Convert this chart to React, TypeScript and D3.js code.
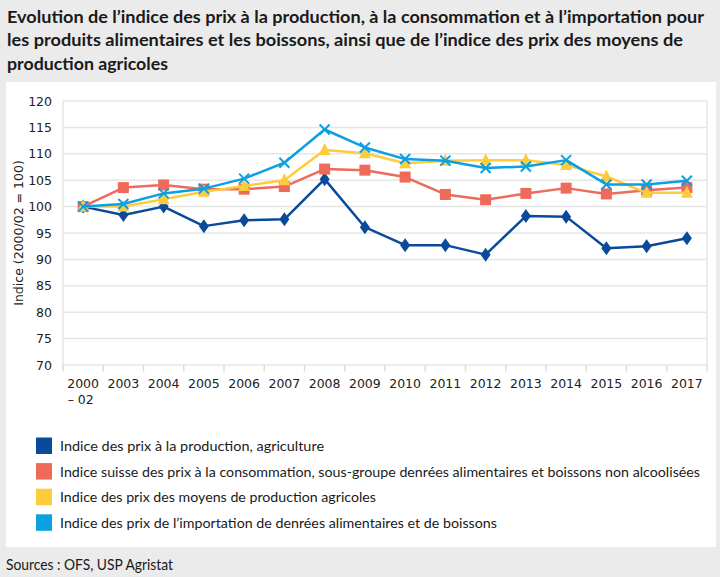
import React from "react";
import * as d3 from "d3";

const categories = ["2000", "2003", "2004", "2005", "2006", "2007", "2008", "2009", "2010", "2011", "2012", "2013", "2014", "2015", "2016", "2017"];
const firstCategorySuffix = "– 02";
const production = [100, 98.4, 100, 96.3, 97.4, 97.6, 105.2, 96.1, 92.7, 92.7, 90.9, 98.2, 98.1, 92.1, 92.5, 94.0];
const consommation = [100, 103.6, 104.1, 103.3, 103.3, 103.8, 107.1, 106.9, 105.6, 102.3, 101.3, 102.5, 103.5, 102.4, 103.1, 103.6];
const moyens = [100, 100.0, 101.4, 102.8, 103.9, 105.0, 110.7, 110.1, 108.2, 108.7, 108.8, 108.8, 107.9, 105.7, 102.6, 102.6];
const importation = [100, 100.5, 102.5, 103.4, 105.3, 108.3, 114.6, 111.2, 109.0, 108.7, 107.3, 107.6, 108.8, 104.2, 104.2, 104.9];
const yTicks = [70, 75, 80, 85, 90, 95, 100, 105, 110, 115, 120];
const seriesNames = [
  "Indice des prix à la production, agriculture",
  "Indice suisse des prix à la consommation, sous-groupe denrées alimentaires et boissons non alcoolisées",
  "Indice des prix des moyens de production agricoles",
  "Indice des prix de l’importation de denrées alimentaires et de boissons",
];
const legendWidths = [264, 640, 316, 437];
const titleLines = [
  "Evolution de l’indice des prix à la production, à la consommation et à l’importation pour",
  "les produits alimentaires et les boissons, ainsi que de l’indice des prix des moyens de",
  "production agricoles",
];
const titleWidths = [697, 676, 161];

const colors = ["#0a4a9b", "#ee6a5b", "#fdcc3d", "#0aa0e2"];
const seriesData = [production, consommation, moyens, importation];
const markers = ["diamond", "square", "triangle", "x"];

const textFont = "Lato, 'Open Sans', sans-serif";
const axisFont = "'DejaVu Sans', Verdana, sans-serif";

export default function App() {
  const W = 720, H = 577;
  const left = 63, right = 707, top = 101, bottom = 365;
  const x = d3.scaleBand().domain(categories).range([left, right]);
  const y = d3.scaleLinear().domain([70, 120]).range([bottom, top]);
  const cx = (c: string) => (x(c) as number) + x.bandwidth() / 2;
  const line = d3.line<number>().x((_, i) => cx(categories[i])).y((v) => y(v));

  const marker = (type: string, px: number, py: number, color: string, key: string) => {
    if (type === "diamond") {
      return <path key={key} d={`M${px},${py - 7}L${px + 5},${py}L${px},${py + 7}L${px - 5},${py}Z`} fill={color} />;
    }
    if (type === "square") {
      return <rect key={key} x={px - 5.5} y={py - 5.5} width={11} height={11} fill={color} />;
    }
    if (type === "triangle") {
      return <path key={key} d={`M${px},${py - 7}L${px + 6},${py + 5}L${px - 6},${py + 5}Z`} fill={color} />;
    }
    return (
      <path key={key} d={`M${px - 5},${py - 5}L${px + 5},${py + 5}M${px + 5},${py - 5}L${px - 5},${py + 5}`} stroke={color} strokeWidth={2} fill="none" />
    );
  };

  return (
    <svg width={W} height={H} style={{ display: "block", position: "absolute", left: 0, top: 0 }}>
      <rect x={0} y={0} width={W} height={H} fill="#ebebeb" />
      {titleLines.map((t, i) => (
        <text key={i} x={7} y={22.5 + i * 23.5} fontFamily={textFont} fontSize={17} fontWeight="bold" fill="#1a1a1a"
          textLength={titleWidths[i]} lengthAdjust="spacingAndGlyphs">
          {t}
        </text>
      ))}
      <rect x={6} y={82} width={710} height={465} fill="#ffffff" />
      {/* grid */}
      {yTicks.map((t) => (
        <line key={t} x1={left} x2={right} y1={y(t)} y2={y(t)} stroke="#e6e6e6" strokeWidth={1.5} />
      ))}
      <line x1={left} x2={left} y1={top} y2={bottom} stroke="#e6e6e6" strokeWidth={1.5} />
      <line x1={right} x2={right} y1={top} y2={bottom} stroke="#e6e6e6" strokeWidth={1.5} />
      {/* x ticks */}
      {categories.concat(["end"]).map((c, i) => {
        const xx = i < categories.length ? (x(c) as number) : right;
        return <line key={"t" + i} x1={xx} x2={xx} y1={bottom} y2={bottom + 6.5} stroke="#dcdcdc" strokeWidth={1.5} />;
      })}
      {yTicks.map((t) => (
        <text key={"yl" + t} x={52} y={y(t) + 4.5} textAnchor="end" fontFamily={axisFont} fontSize={12.5} fill="#222">
          {t}
        </text>
      ))}
      {categories.map((c) => (
        <text key={"xl" + c} x={cx(c)} y={387.5} textAnchor="middle" fontFamily={axisFont} fontSize={12.5} fill="#222">
          {c}
        </text>
      ))}
      <text x={cx(categories[0]) - 15.5} y={404} fontFamily={axisFont} fontSize={12.5} fill="#222">
        {firstCategorySuffix}
      </text>
      <text transform={`translate(23,${(top + bottom) / 2}) rotate(-90)`} textAnchor="middle" fontFamily={axisFont} fontSize={12.5} fill="#222">
        Indice (2000/02 = 100)
      </text>
      {/* lines */}
      {seriesData.map((s, si) => (
        <g key={"s" + si}>
          <path d={line(s) || ""} fill="none" stroke={colors[si]} strokeWidth={2.5} strokeLinejoin="round" />
          {s.map((v, i) => marker(markers[si], cx(categories[i]), y(v), colors[si], `m${si}-${i}`))}
        </g>
      ))}
      {/* legend */}
      {seriesNames.map((n, i) => (
        <g key={"lg" + i}>
          <rect x={36} y={437.5 + i * 25.6} width={16} height={16.5} fill={colors[i]} />
          <text x={60} y={451 + i * 25.6} fontFamily={textFont} fontSize={14} fill="#1a1a1a"
            textLength={legendWidths[i]} lengthAdjust="spacingAndGlyphs">
            {n}
          </text>
        </g>
      ))}
      <text x={6} y={570} fontFamily={textFont} fontSize={15} fill="#1a1a1a" textLength={167} lengthAdjust="spacingAndGlyphs">
        Sources : OFS, USP Agristat
      </text>
    </svg>
  );
}
